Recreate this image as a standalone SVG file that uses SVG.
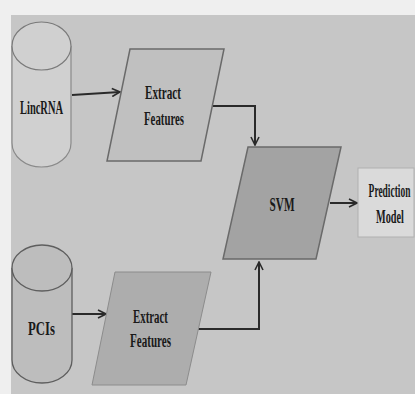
<svg xmlns="http://www.w3.org/2000/svg" width="415" height="394" viewBox="0 0 415 394">
  <style>
    .lbl { font-family: "Liberation Serif", "DejaVu Serif", serif; font-weight: bold; font-size: 18px; fill: #1a1a1a; text-anchor: middle; }
    .edge { fill: none; stroke: #2a2a2a; stroke-width: 2; }
    .shape { stroke: #6a6a6a; stroke-width: 1.5; }
  </style>
  <defs>
    <marker id="arrow" viewBox="0 0 10 10" refX="9" refY="5" markerWidth="5" markerHeight="5" orient="auto" markerUnits="strokeWidth">
      <path d="M1,1 L9,5 L1,9" fill="none" stroke="#2a2a2a" stroke-width="1.6"/>
    </marker>
  </defs>

  <!-- page and panel background -->
  <rect x="0" y="0" width="415" height="394" fill="#efefef"/>
  <rect x="11" y="15" width="404" height="379" fill="#c6c6c6"/>

  <!-- connectors -->
  <g id="connectors">
    <path class="edge" d="M72,95 L120,92" marker-end="url(#arrow)"/>
    <path class="edge" d="M213,106 L255,106 L255,145" marker-end="url(#arrow)"/>
    <path class="edge" d="M72,314 L106,314" marker-end="url(#arrow)"/>
    <path class="edge" d="M198,329 L259,329 L259,262" marker-end="url(#arrow)"/>
    <path class="edge" d="M330,203 L357,203" marker-end="url(#arrow)"/>
  </g>

  <!-- LincRNA store -->
  <g id="lincrna">
    <path d="M12,46 L12,143 A29.5,24 0 0 0 71,143 L71,46" fill="#d0d0d0" stroke="#8a8a8a" stroke-width="1.2"/>
    <ellipse cx="41.5" cy="46" rx="29.5" ry="24" fill="#d0d0d0" stroke="#7a7a7a" stroke-width="1.2"/>
    <text class="lbl" x="41.5" y="114" textLength="43" lengthAdjust="spacingAndGlyphs">LincRNA</text>
  </g>

  <!-- PCIs store -->
  <g id="pcis">
    <path d="M12,268 L12,360 A30,23 0 0 0 72,360 L72,268" fill="#bdbdbd" stroke="#5e5e5e" stroke-width="1.3"/>
    <ellipse cx="42" cy="268" rx="30" ry="23" fill="#bdbdbd" stroke="#5e5e5e" stroke-width="1.3"/>
    <text class="lbl" x="41.5" y="335" textLength="27" lengthAdjust="spacingAndGlyphs">PCIs</text>
  </g>

  <!-- feature extraction, top -->
  <g id="extract-top">
    <polygon class="shape" points="130,49 224,49 201,161 107,161" fill="#c0c0c0"/>
    <text class="lbl" x="163" y="99" textLength="36" lengthAdjust="spacingAndGlyphs">Extract</text>
    <text class="lbl" x="164" y="125" textLength="40" lengthAdjust="spacingAndGlyphs">Features</text>
  </g>

  <!-- feature extraction, bottom -->
  <g id="extract-bottom">
    <polygon points="115,272 211,272 186,385 92,385" fill="#adadad" stroke="#8c8c8c" stroke-width="1"/>
    <text class="lbl" x="150.5" y="323" textLength="35" lengthAdjust="spacingAndGlyphs">Extract</text>
    <text class="lbl" x="150.5" y="347" textLength="41" lengthAdjust="spacingAndGlyphs">Features</text>
  </g>

  <!-- classifier -->
  <g id="svm">
    <polygon class="shape" points="248,147 341,147 316,259 223,259" fill="#a3a3a3"/>
    <text class="lbl" x="282" y="211" textLength="25" lengthAdjust="spacingAndGlyphs">SVM</text>
  </g>

  <!-- output: labels squeezed horizontally to fit the narrow box -->
  <g id="prediction-model">
    <rect x="358" y="168" width="56" height="69" fill="#dadada" stroke="#b0b0b0" stroke-width="1"/>
    <text class="lbl" transform="translate(389.5,197) scale(0.525,1)" x="0" y="0">Prediction</text>
    <text class="lbl" transform="translate(390,223) scale(0.57,1)" x="0" y="0">Model</text>
  </g>
</svg>
